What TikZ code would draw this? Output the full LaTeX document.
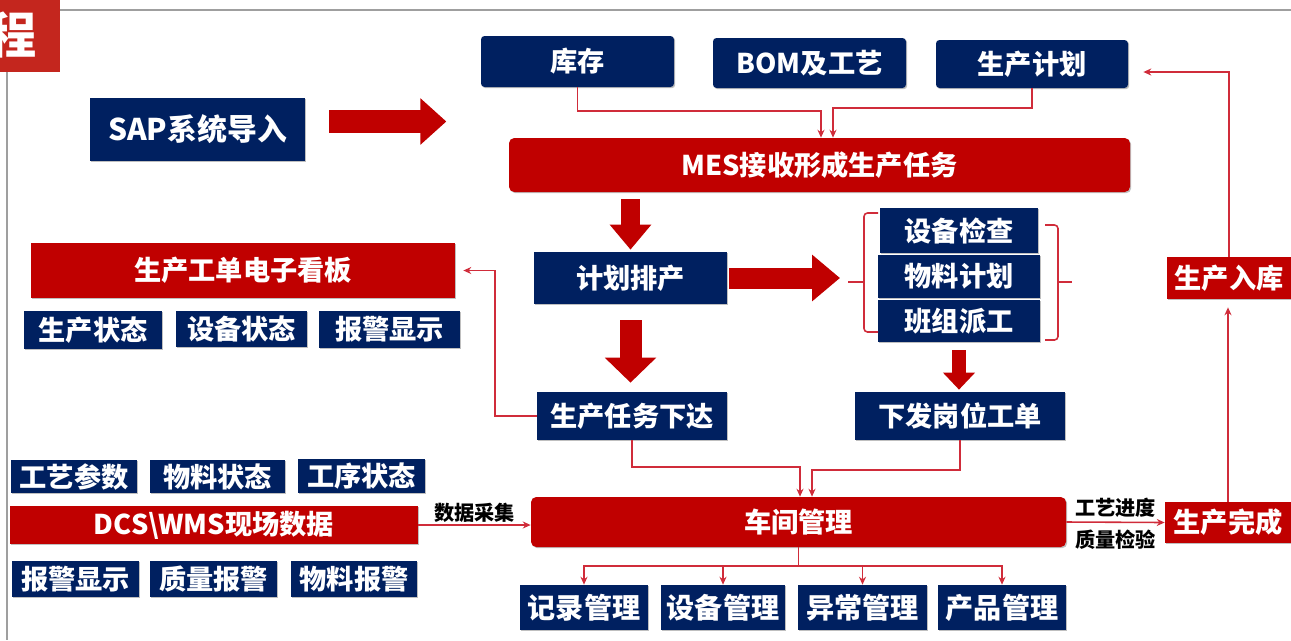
\documentclass[tikz,border=0pt]{standalone}
\usepackage{fontspec}
\setmainfont{Noto Sans CJK SC}
\usetikzlibrary{arrows.meta}
\usetikzlibrary{shadows}

\definecolor{navy}{RGB}{0,32,96}
\definecolor{mesred}{RGB}{192,0,0}
\definecolor{linkred}{RGB}{208,44,58}
\definecolor{tabred}{RGB}{196,38,30}

\begin{document}
\begin{tikzpicture}[x=0.02cm,y=-0.02cm,
    sz/.style 2 args={minimum width=#1*0.02cm,minimum height=#2*0.02cm},
    navybox/.style={fill=navy,text=white,inner sep=0pt,
        font=\bfseries\fontsize{15.5}{18}\selectfont,
        drop shadow={shadow xshift=0.7pt,shadow yshift=-0.7pt,fill=black,opacity=0.25}},
    redbox/.style={navybox,fill=mesred},
    link/.style={draw=linkred,line width=0.9pt,-{Stealth[length=4.5pt,width=4pt]}},
    plain/.style={draw=linkred,line width=0.9pt},
    lbl/.style={font=\bfseries\fontsize{11.5}{13}\selectfont,inner sep=1pt}]

    \useasboundingbox (0,0) rectangle (1291,640);

    % page frame and title tab
    \draw[gray!75,line width=1.1pt] (60,10) -- (1291,10);
    \draw[gray!75,line width=1.1pt] (7,72) -- (7,640);
    \fill[tabred] (0,0) rectangle (60,72);
    \node[text=white,font=\bfseries\fontsize{28}{30}\selectfont] (tab) at (12,35) {程};

    % SAP import
    \node[navybox,sz={215}{63},font=\bfseries\fontsize{17}{20}\selectfont] (sap) at (197.5,129.5) {SAP系统导入};
    \draw[draw=mesred,line width=0.46cm,-{Triangle[width=0.9cm,length=0.52cm]},
        drop shadow={shadow xshift=0.7pt,shadow yshift=-0.7pt,opacity=0.25}]
        ([xshift=0.48cm,yshift=0.16cm]sap.east) -- ++(117,0);

    % top row
    \node[navybox,rounded corners=2pt,sz={193}{51}] (kucun) at (577.5,61.5) {库存};
    \node[navybox,rounded corners=2pt,sz={193}{50}] (bom) at (809.5,63) {BOM及工艺};
    \node[navybox,rounded corners=2pt,sz={192}{48}] (jihua) at (1032,64) {生产计划};

    % MES
    \node[redbox,rounded corners=3pt,sz={621}{54}] (mes) at (819.5,165) {MES接收形成生产任务};

    \coordinate (k1) at (821,111);
    \coordinate (p1) at (833,108);
    \draw[link] (kucun.south) |- (k1) -- (k1 |- mes.north);
    \draw[link] (jihua.south) |- (p1) -- (p1 |- mes.north);

    % planning
    \node[navybox,sz={193}{52}] (paichan) at (630.5,278) {计划排产};
    \draw[draw=mesred,line width=0.38cm,-{Triangle[width=0.8cm,length=0.5cm]},
        shorten <=0.14cm,shorten >=0.04cm] (paichan.north |- mes.south) -- (paichan.north);

    \node[navybox,sz={158}{45}] (jiancha) at (959,230.5) {设备检查};
    \node[navybox,sz={162}{43}] (wuliao) at (959,276.5) {物料计划};
    \node[navybox,sz={162}{42}] (banzu) at (959,321) {班组派工};

    % brackets round the three checks
    \draw[plain,rounded corners=2pt] (878,213) -- (864,213) -- (864,332) -- (878,332);
    \draw[plain] (864,282) -- (848,282);
    \draw[plain,rounded corners=2pt] (1045,225) -- (1058,225) -- (1058,340) -- (1045,340);
    \draw[plain] (1058,282) -- (1072,282);
    \coordinate (brL) at (848,278);

    \draw[draw=mesred,line width=0.42cm,-{Triangle[width=0.9cm,length=0.56cm]},
        shorten <=0.04cm,shorten >=0.16cm] (paichan.east) -- (paichan.east -| brL);

    \node[navybox,sz={190}{48}] (xiada) at (632,416) {生产任务下达};
    \node[navybox,sz={210}{48}] (gongdan) at (960,416) {下发岗位工单};

    \draw[draw=mesred,line width=0.44cm,-{Triangle[width=1.0cm,length=0.5cm]},
        shorten <=0.32cm,shorten >=0.18cm] (paichan.south) -- (paichan.south |- xiada.north);
    \draw[draw=mesred,line width=0.28cm,-{Triangle[width=0.62cm,length=0.34cm]},
        shorten <=0.16cm,shorten >=0.04cm] (banzu.south) -- (banzu.south |- gongdan.north);

    % electronic board
    \node[redbox,sz={424}{55}] (kanban) at (243,270.5) {生产工单电子看板};
    \node[navybox,sz={138}{38}] (sczt) at (93,330) {生产状态};
    \node[navybox,sz={131}{36}] (sbzt) at (241.5,329) {设备状态};
    \node[navybox,sz={141}{37}] (bjxs) at (389.5,329.5) {报警显示};

    \coordinate (k2) at (495,0);
    \draw[link] (xiada.west) -- (xiada.west -| k2) |- ([xshift=0.16cm]kanban.east);

    % field data
    \node[navybox,sz={126}{33}] (gycs) at (74,476.5) {工艺参数};
    \node[navybox,sz={135}{33}] (wlzt) at (217.5,476.5) {物料状态};
    \node[navybox,sz={127}{34}] (gxzt) at (361.5,476) {工序状态};
    \node[redbox,sz={408}{38}] (dcs) at (214,525) {DCS\textbackslash WMS现场数据};
    \node[navybox,sz={127}{36}] (bjxs2) at (75.5,579) {报警显示};
    \node[navybox,sz={127}{36}] (zlbj) at (213.5,579) {质量报警};
    \node[navybox,sz={126}{36}] (wlbj) at (354,579) {物料报警};

    % workshop
    \node[redbox,rounded corners=3pt,sz={535}{50}] (chejian) at (798.5,522) {车间管理};

    \draw[link] (dcs.east) -- (dcs.east -| chejian.west) node[lbl,midway,above] {数据采集};

    \coordinate (c1) at (800,467);
    \coordinate (c2) at (812,470);
    \draw[link] (xiada.south) |- (c1) -- (c1 |- chejian.north);
    \draw[link] (gongdan.south) |- (c2) -- (c2 |- chejian.north);

    \node[navybox,sz={128}{45},font=\bfseries\fontsize{16}{18}\selectfont] (jilu) at (584,607.5) {记录管理};
    \node[navybox,sz={124}{45},font=\bfseries\fontsize{16}{18}\selectfont] (shebei) at (723,607.5) {设备管理};
    \node[navybox,sz={129}{45},font=\bfseries\fontsize{16}{18}\selectfont] (yichang) at (862.5,607.5) {异常管理};
    \node[navybox,sz={128}{45},font=\bfseries\fontsize{16}{18}\selectfont] (chanpin) at (1002,607.5) {产品管理};

    \coordinate (fork) at (chejian.south |- 0,566);
    \draw[plain] (chejian.south) -- (fork);
    \foreach \b in {jilu,shebei,yichang,chanpin}
        \draw[link] (fork) -| (\b.north);

    % finishing and storage
    \node[redbox,sz={126}{41}] (wancheng) at (1228,522.5) {生产完成};
    \node[redbox,sz={124}{42}] (ruku) at (1229,278) {生产入库};

    \draw[link] (chejian.east) -- (wancheng.west)
        node[lbl,midway,above=1pt] {工艺进度}
        node[lbl,midway,below=3pt] {质量检验};
    \draw[link,shorten >=0.16cm] (wancheng.north) -- (wancheng.north |- ruku.south);
    \draw[link] (ruku.north) |- ([xshift=0.3cm,yshift=-0.16cm]jihua.east);
\end{tikzpicture}
\end{document}
